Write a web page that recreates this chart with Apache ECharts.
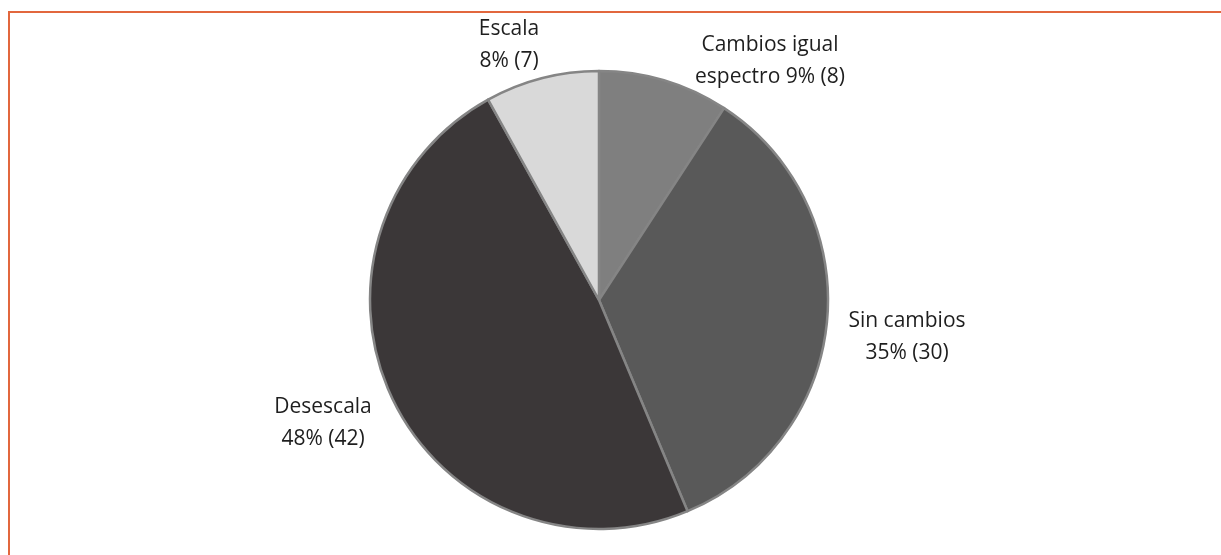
<!DOCTYPE html>
<html>
<head>
<meta charset="utf-8">
<script src="https://cdn.jsdelivr.net/npm/echarts@6/dist/echarts.min.js"></script>
<style>
html,body{margin:0;padding:0;background:#fff;}
#chart{position:absolute;left:0;top:0;width:1221px;height:555px;}
#frame{position:absolute;left:8px;top:11px;width:1213px;height:544px;border-top:2px solid #e2673d;border-left:2px solid #e2673d;box-sizing:border-box;pointer-events:none;}
</style>
</head>
<body>
<div id="chart"></div>
<div id="frame"></div>
<script>
const categories = ['Cambios igual espectro', 'Sin cambios', 'Desescala', 'Escala'];
const labelLines1 = ['Cambios igual', 'Sin cambios', 'Desescala', 'Escala'];
const labelLines2 = ['espectro 9% (8)', '35% (30)', '48% (42)', '8% (7)'];
const values = [8, 30, 42, 7];
const colors = ['#7f7f7f', '#595959', '#3b3738', '#d9d9d9'];
// label centre positions (pixels)
const labelX = [770, 907, 323, 509];
const labelY = [61, 337, 423, 45];

const chart = echarts.init(document.getElementById('chart'), null, {renderer: 'canvas'});
chart.setOption({
  animation: false,
  series: [{
    type: 'pie',
    center: [599, 300],
    radius: [0, 229],
    startAngle: 90,
    clockwise: true,
    data: categories.map((c, i) => ({name: c, value: values[i], itemStyle: {color: colors[i]}})),
    itemStyle: {borderColor: '#858585', borderWidth: 2.5},
    label: {
      show: true,
      position: 'outside',
      formatter: (p) => labelLines1[p.dataIndex] + '\n' + labelLines2[p.dataIndex],
      fontFamily: 'Open Sans',
      fontSize: 21,
      lineHeight: 32,
      color: '#1e1e1e',
      align: 'center'
    },
    labelLine: {show: false},
    labelLayout: (params) => ({
      x: labelX[params.dataIndex],
      y: labelY[params.dataIndex],
      align: 'center',
      verticalAlign: 'middle'
    }),
    emphasis: {disabled: true}
  }]
});
</script>
</body>
</html>
